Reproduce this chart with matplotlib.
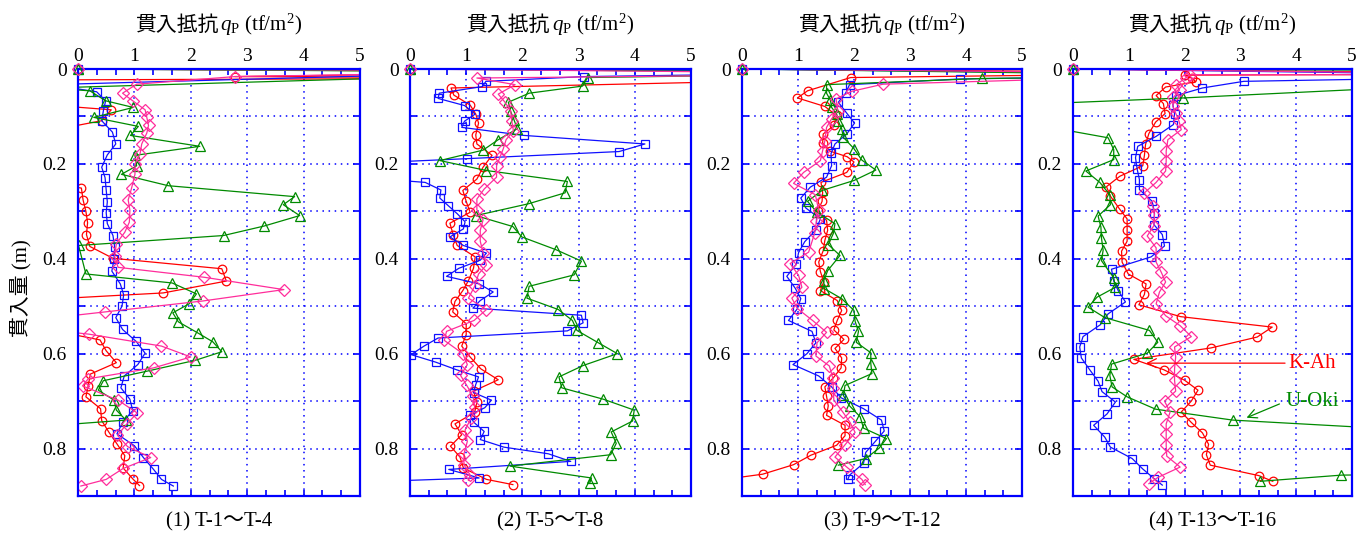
import matplotlib
matplotlib.use("Agg")
import matplotlib.pyplot as plt
from matplotlib.ticker import MultipleLocator
from matplotlib.offsetbox import TextArea, HPacker, AnnotationBbox

plt.rcParams['font.family'] = ['Liberation Serif', 'Noto Sans CJK JP']
plt.rcParams['mathtext.fontset'] = 'custom'
plt.rcParams['mathtext.rm'] = 'Liberation Serif'
plt.rcParams['mathtext.it'] = 'Liberation Serif:italic'

# ---- data: penetration resistance q (tf/m2) vs penetration depth d (m) ----
# values of 9.0 / -0.5 are points that fall off the plotted range

# panel (1)
p1_red_q = [0, 9, 2.78, 9, -0.5, -0.5, 0.59, 0.42, -0.5, -0.5, 0.06, 0.09, 0.14, 0.17, 0.15, 0.21, 0.62, 2.55,
            2.63, 1.51, -0.5, -0.5, 0.39, 0.50, 0.68, 0.22, 0.18, 0.14, 0.40, 0.42, 0.55, 0.69, 0.83, 0.80, 0.98, 1.09]
p1_red_d = [0, 0.006, 0.016, 0.019, 0.023, 0.076, 0.086, 0.109, 0.13, 0.24, 0.251, 0.276, 0.300, 0.324, 0.349,
            0.374, 0.399, 0.421, 0.447, 0.472, 0.485, 0.55, 0.571, 0.594, 0.619, 0.643, 0.668, 0.691, 0.716, 0.741,
            0.766, 0.790, 0.815, 0.841, 0.865, 0.878]
p1_blue_q = [0, 9, -0.5, 0.33, 0.49, 0.45, 0.42, 0.61, 0.67, 0.52, 0.42, 0.48, 0.50, 0.52, 0.50, 0.52, 0.62, 0.65,
             0.64, 0.60, 0.75, 0.81, 0.78, 0.67, 0.79, 1.03, 1.19, 1.06, 0.82, 0.76, 0.92, 0.97, 0.79, 0.69, 1.00,
             1.16, 1.34, 1.48, 1.69]
p1_blue_d = [0, 0.002, 0.033, 0.048, 0.067, 0.088, 0.109, 0.133, 0.158, 0.181, 0.207, 0.229, 0.255, 0.280, 0.303,
             0.326, 0.351, 0.375, 0.400, 0.426, 0.453, 0.476, 0.500, 0.524, 0.549, 0.574, 0.599, 0.623, 0.647, 0.672,
             0.696, 0.720, 0.745, 0.769, 0.794, 0.819, 0.844, 0.865, 0.879]
p1_green_q = [0, 9, -0.5, 0.21, 0.49, 0.98, 0.28, 1.07, 0.93, 2.16, 1.01, 1.04, 0.77, 1.60, 3.84, 3.64, 3.93, 3.30,
              2.58, 0.01, 0.14, 1.67, 2.10, 1.97, 1.68, 1.78, 2.12, 2.39, 2.55, 2.08, 1.22, 0.45, 0.36, 0.64, 0.68,
              0.85, -0.5]
p1_green_d = [0, 0.007, 0.040, 0.046, 0.067, 0.081, 0.102, 0.121, 0.140, 0.163, 0.182, 0.204, 0.222, 0.246, 0.269,
              0.286, 0.309, 0.331, 0.351, 0.372, 0.432, 0.451, 0.474, 0.495, 0.514, 0.533, 0.556, 0.575, 0.596,
              0.614, 0.637, 0.657, 0.677, 0.698, 0.719, 0.740, 0.752]
p1_mag_q = [0, 9, 2.78, 1.04, 0.79, 0.97, 1.19, 1.22, 1.25, 1.22, 1.13, 1.10, 1.01, 1.01, 0.95, 0.89, 0.92, 0.91,
            0.83, 0.68, 0.65, 0.71, 2.24, 3.65, 2.21, 0.48, -0.5, -0.5, 0.20, 1.48, 2.00, 1.34, 0.18, 0.08, 0.71,
            1.05, 0.86, 0.70, 0.88, 1.29, 0.80, 0.50, 0.05]
p1_mag_d = [0, 0.004, 0.016, 0.032, 0.051, 0.067, 0.086, 0.102, 0.119, 0.135, 0.158, 0.179, 0.200, 0.222, 0.251,
            0.276, 0.298, 0.323, 0.344, 0.368, 0.395, 0.418, 0.439, 0.465, 0.489, 0.512, 0.525, 0.55, 0.559, 0.584,
            0.607, 0.630, 0.653, 0.668, 0.698, 0.725, 0.749, 0.772, 0.796, 0.819, 0.842, 0.865, 0.879]

# panel (2)
p2_red_q = [0, 9, 9, 0.73, 0.78, 1.07, 1.17, 1.22, 1.17, 1.19, 1.46, 1.30, 1.19, 0.94, 1.00, 1.07, 0.71, 0.77, 0.84,
            1.16, 1.13, 1.04, 0.94, 0.80, 0.76, 1.00, 1.00, 0.92, 1.07, 1.26, 1.57, 1.13, 1.19, 1.15, 0.80, 0.92,
            0.72, 0.89, 0.95, 1.36, 1.83]
p2_red_d = [0, 0.004, 0.018, 0.040, 0.055, 0.076, 0.095, 0.114, 0.139, 0.158, 0.182, 0.207, 0.232, 0.256, 0.279,
            0.302, 0.325, 0.350, 0.372, 0.396, 0.420, 0.446, 0.467, 0.490, 0.512, 0.537, 0.560, 0.584, 0.607, 0.632,
            0.655, 0.679, 0.702, 0.724, 0.748, 0.771, 0.795, 0.818, 0.841, 0.865, 0.876]
p2_blue_q = [0, 9, 3.10, 1.35, 1.29, 0.52, 0.50, 0.97, 1.16, 0.97, 0.92, 2.03, 4.18, 3.72, 1.01, -0.5, -0.5, 0.27,
             0.55, 0.53, 0.68, 0.84, 0.98, 0.95, 0.71, 0.95, 1.36, 1.25, 0.87, 0.65, 1.23, 1.48, 1.25, 1.12, 3.05,
             3.08, 2.80, 0.50, 0.25, 0.02, 0.46, 0.83, 1.22, 1.17, 1.13, 1.45, 1.33, 1.07, 1.13, 1.32, 1.25, 1.67,
             2.46, 2.86, 0.69, 1.23, -0.5]
p2_blue_d = [0, 0.006, 0.016, 0.026, 0.037, 0.051, 0.062, 0.077, 0.095, 0.110, 0.123, 0.140, 0.158, 0.174, 0.189,
             0.197, 0.232, 0.239, 0.255, 0.272, 0.288, 0.305, 0.322, 0.337, 0.354, 0.372, 0.388, 0.403, 0.420, 0.437,
             0.453, 0.470, 0.488, 0.504, 0.519, 0.535, 0.552, 0.567, 0.584, 0.602, 0.618, 0.634, 0.649, 0.665,
             0.682, 0.698, 0.714, 0.729, 0.744, 0.764, 0.781, 0.797, 0.811, 0.827, 0.844, 0.862, 0.869]
p2_green_q = [0, 9, 3.16, 3.07, 2.12, 1.75, 1.79, 1.85, 1.91, 1.57, 1.30, 0.53, 1.36, 2.80, 2.76, 2.11, 1.17, 1.83,
              1.99, 2.60, 3.05, 2.92, 2.12, 2.08, 2.64, 2.89, 2.97, 3.35, 3.69, 3.08, 2.65, 2.70, 3.44, 3.99, 3.96,
              3.58, 3.67, 3.57, 1.78, 3.23, 3.20]
p2_green_d = [0, 0.008, 0.018, 0.036, 0.051, 0.070, 0.089, 0.107, 0.126, 0.149, 0.171, 0.193, 0.214, 0.237, 0.261,
              0.284, 0.309, 0.332, 0.354, 0.381, 0.405, 0.434, 0.458, 0.483, 0.507, 0.530, 0.551, 0.577, 0.600,
              0.625, 0.649, 0.672, 0.696, 0.719, 0.742, 0.765, 0.789, 0.813, 0.837, 0.862, 0.872]
p2_mag_q = [0, 9, 1.19, 1.87, 1.57, 1.69, 1.79, 1.81, 1.84, 1.71, 1.66, 1.60, 1.54, 1.54, 1.32, 1.19, 1.19, 1.30,
            1.25, 1.25, 1.30, 1.36, 1.22, 1.15, 1.04, 1.36, 1.14, 0.65, 0.61, 0.94, 1.02, 0.90, 1.01, 1.12, 1.15,
            1.09, 0.98, 1.02, 0.96, 0.96, 1.07, 1.04]
p2_mag_d = [0, 0.010, 0.019, 0.033, 0.053, 0.070, 0.088, 0.109, 0.130, 0.149, 0.168, 0.186, 0.204, 0.228, 0.253,
            0.274, 0.297, 0.318, 0.340, 0.363, 0.387, 0.413, 0.432, 0.458, 0.483, 0.507, 0.530, 0.553, 0.572, 0.600,
            0.623, 0.646, 0.667, 0.689, 0.712, 0.735, 0.761, 0.785, 0.811, 0.834, 0.856, 0.867]

# panel (3)
p3_red_q = [0, 9, 1.94, 1.17, 0.99, 1.48, 1.69, 1.64, 1.45, 1.44, 1.57, 1.88, 2.00, 1.87, 1.41, 1.44, 1.43, 1.35,
            1.51, 1.53, 1.48, 1.45, 1.37, 1.40, 1.46, 1.40, 1.70, 1.78, 1.70, 1.64, 1.82, 1.66, 1.78, 1.77, 1.63,
            1.48, 1.51, 1.54, 1.51, 1.84, 1.84, 1.69, 1.23, 0.92, 0.37, -0.5]
p3_red_d = [0, 0.008, 0.018, 0.046, 0.061, 0.079, 0.098, 0.119, 0.137, 0.156, 0.173, 0.185, 0.196, 0.218, 0.239,
            0.260, 0.279, 0.300, 0.319, 0.340, 0.361, 0.383, 0.407, 0.427, 0.448, 0.467, 0.488, 0.509, 0.530,
            0.550, 0.570, 0.589, 0.609, 0.630, 0.651, 0.670, 0.690, 0.710, 0.730, 0.751, 0.773, 0.793, 0.814,
            0.834, 0.854, 0.868]
p3_blue_q = [0, 9, 3.90, 1.92, 1.85, 1.72, 1.87, 2.01, 1.87, 1.66, 1.59, 1.60, 1.51, 1.22, 1.05, 1.14, 1.40, 1.32,
             1.12, 1.01, 0.97, 0.80, 0.95, 1.05, 0.99, 0.83, 1.25, 1.32, 1.16, 0.91, 1.37, 1.60, 1.77, 2.17, 2.49,
             2.54, 2.38, 2.21, 2.17, 1.92, 1.89]
p3_blue_d = [0, 0.012, 0.021, 0.033, 0.051, 0.070, 0.093, 0.114, 0.137, 0.158, 0.178, 0.204, 0.228, 0.249, 0.272,
             0.293, 0.316, 0.339, 0.364, 0.387, 0.411, 0.437, 0.462, 0.484, 0.505, 0.530, 0.553, 0.577, 0.600,
             0.623, 0.647, 0.670, 0.693, 0.716, 0.740, 0.763, 0.785, 0.808, 0.831, 0.856, 0.865]
p3_green_q = [0, 9, 4.28, 1.51, 1.51, 1.58, 1.60, 1.69, 1.72, 1.78, 1.81, 2.00, 2.14, 2.39, 2.00, 1.43, 1.17, 1.34,
              1.66, 1.63, 1.54, 1.75, 1.53, 1.46, 1.47, 1.78, 2.00, 2.02, 2.08, 2.04, 2.30, 2.30, 2.32, 1.84, 1.81,
              1.92, 2.11, 2.17, 2.58, 2.45, 2.21, 1.72]
p3_green_d = [0, 0.014, 0.020, 0.033, 0.051, 0.066, 0.081, 0.095, 0.110, 0.126, 0.144, 0.168, 0.192, 0.213, 0.235,
              0.256, 0.279, 0.302, 0.326, 0.347, 0.370, 0.393, 0.425, 0.446, 0.463, 0.484, 0.509, 0.532, 0.553,
              0.576, 0.598, 0.621, 0.642, 0.667, 0.688, 0.710, 0.733, 0.757, 0.779, 0.799, 0.821, 0.835]
p3_mag_q = [0, 9, 2.52, 1.96, 1.68, 1.71, 1.60, 1.51, 1.48, 1.44, 1.40, 1.10, 0.92, 1.31, 1.37, 1.33, 1.30, 1.19,
            0.86, 1.01, 1.07, 0.89, 0.99, 1.26, 1.51, 1.34, 1.32, 1.56, 1.62, 1.63, 1.64, 1.80, 1.93, 2.02, 1.84,
            1.66, 1.87, 2.14, 2.20]
p3_mag_d = [0, 0.010, 0.032, 0.047, 0.063, 0.088, 0.105, 0.123, 0.151, 0.172, 0.193, 0.218, 0.241, 0.265, 0.298,
            0.320, 0.345, 0.386, 0.410, 0.435, 0.460, 0.483, 0.505, 0.530, 0.555, 0.577, 0.605, 0.626, 0.651,
            0.672, 0.698, 0.723, 0.745, 0.766, 0.792, 0.818, 0.839, 0.865, 0.876]

# panel (4)
p4_red_q = [0, 9, 2.00, 2.14, 2.20, 1.66, 1.49, 1.62, 1.65, 1.48, 1.36, 1.30, 1.28, 1.25, 0.84, 0.60, 0.67, 0.84,
            0.97, 0.97, 0.97, 0.87, 0.88, 0.99, 1.31, 1.28, 1.18, 1.93, 3.57, 3.30, 2.47, 1.09, 1.63, 2.00, 2.24,
            2.12, 1.94, 2.12, 2.32, 2.43, 2.39, 2.46, 3.33, 3.58]
p4_red_d = [0, 0.010, 0.013, 0.020, 0.027, 0.038, 0.056, 0.073, 0.094, 0.112, 0.136, 0.159, 0.182, 0.204, 0.226,
            0.248, 0.268, 0.296, 0.316, 0.340, 0.363, 0.384, 0.407, 0.432, 0.453, 0.475, 0.497, 0.522, 0.544,
            0.565, 0.588, 0.612, 0.634, 0.656, 0.677, 0.700, 0.723, 0.745, 0.767, 0.791, 0.813, 0.835, 0.857, 0.869]
p4_blue_q = [0, 9, 3.06, 2.32, 1.85, 1.79, 1.82, 1.80, 1.49, 1.16, 1.12, 1.15, 1.19, 1.19, 1.42, 1.46, 1.45, 1.60,
             1.64, 1.40, 0.69, 0.73, 0.81, 0.94, 0.63, 0.49, 0.18, 0.12, 0.15, 0.30, 0.45, 0.52, 0.76, 0.61, 0.37,
             0.57, 0.67, 1.06, 1.25, 1.46, 1.60]
p4_blue_d = [0, 0.014, 0.026, 0.040, 0.056, 0.075, 0.094, 0.117, 0.142, 0.163, 0.187, 0.211, 0.233, 0.254, 0.279,
             0.303, 0.328, 0.349, 0.373, 0.396, 0.422, 0.447, 0.467, 0.491, 0.516, 0.539, 0.564, 0.586, 0.609,
             0.634, 0.658, 0.680, 0.702, 0.727, 0.751, 0.776, 0.797, 0.821, 0.843, 0.864, 0.877]
p4_green_q = [0, 9, 9, 1.98, -0.5, -0.5, 0.63, 0.73, 0.73, 0.23, 0.48, 0.66, 0.67, 0.45, 0.50, 0.51, 0.54, 0.51,
              0.73, 0.76, 0.43, 0.27, 0.57, 1.37, 1.52, 1.33, 0.69, 0.66, 0.70, 0.97, 1.48, 2.86, 9, 9, 4.81, 3.36]
p4_green_d = [0, 0.004, 0.021, 0.061, 0.073, 0.121, 0.145, 0.170, 0.191, 0.215, 0.239, 0.265, 0.286, 0.310, 0.333,
              0.356, 0.382, 0.404, 0.440, 0.460, 0.481, 0.502, 0.524, 0.551, 0.576, 0.599, 0.622, 0.646, 0.670,
              0.691, 0.717, 0.740, 0.780, 0.85, 0.856, 0.869]
p4_mag_q = [0, 9, 2.10, 2.03, 1.85, 1.91, 1.80, 1.79, 1.84, 1.90, 1.94, 1.70, 1.67, 1.67, 1.66, 1.49, 1.28, 1.43,
            1.46, 1.45, 1.33, 1.49, 1.49, 1.58, 1.66, 1.55, 1.49, 1.66, 1.92, 2.12, 1.82, 1.84, 1.82, 1.82, 1.84,
            1.64, 1.74, 1.67, 1.67, 1.67, 1.68, 1.92, 1.52, 1.36]
p4_mag_d = [0, 0.012, 0.012, 0.018, 0.033, 0.044, 0.060, 0.079, 0.093, 0.110, 0.128, 0.149, 0.173, 0.194, 0.215,
            0.239, 0.261, 0.289, 0.307, 0.330, 0.352, 0.377, 0.407, 0.428, 0.449, 0.470, 0.495, 0.520, 0.541,
            0.564, 0.586, 0.607, 0.632, 0.656, 0.679, 0.700, 0.723, 0.748, 0.769, 0.793, 0.816, 0.839, 0.861, 0.874]

captions = ['(1) T-1～T-4', '(2) T-5～T-8', '(3) T-9～T-12', '(4) T-13～T-16']
panels = [
    [(p1_red_q, p1_red_d), (p1_blue_q, p1_blue_d), (p1_green_q, p1_green_d), (p1_mag_q, p1_mag_d)],
    [(p2_red_q, p2_red_d), (p2_blue_q, p2_blue_d), (p2_green_q, p2_green_d), (p2_mag_q, p2_mag_d)],
    [(p3_red_q, p3_red_d), (p3_blue_q, p3_blue_d), (p3_green_q, p3_green_d), (p3_mag_q, p3_mag_d)],
    [(p4_red_q, p4_red_d), (p4_blue_q, p4_blue_d), (p4_green_q, p4_green_d), (p4_mag_q, p4_mag_d)],
]

RED, BLUE, GREEN, MAG = '#ff0000', '#1010ff', '#008a00', '#ff2d9b'
styles = [dict(color=RED, marker='o', ms=6.2),
          dict(color=BLUE, marker='s', ms=6.2),
          dict(color=GREEN, marker='^', ms=7.5),
          dict(color=MAG, marker='D', ms=6.2)]

fig = plt.figure(figsize=(13.7, 5.4), dpi=100)
lefts = [78, 410, 742, 1073]
widths = [282, 281, 280, 279]

for i, series in enumerate(panels):
    ax = fig.add_axes([lefts[i] / 1370, 1 - 496 / 540, widths[i] / 1370, 427 / 540])
    for (q, d), st in zip(series, styles):
        ax.plot(q, d, color=st['color'], lw=0.9, marker=st['marker'], ms=st['ms'],
                mfc='none', mec=st['color'], mew=0.9)
        # the surface point sits on the corner; show its marker whole
        ax.plot(q[:1], d[:1], ls='none', marker=st['marker'], ms=st['ms'],
                mfc='none', mec=st['color'], mew=0.9, clip_on=False, zorder=5)
    ax.set_xlim(0, 5)
    ax.set_ylim(0.9, 0)
    ax.xaxis.set_major_locator(MultipleLocator(1))
    ax.xaxis.set_minor_locator(MultipleLocator(1 / 3))
    ax.yaxis.set_major_locator(MultipleLocator(0.2))
    ax.yaxis.set_minor_locator(MultipleLocator(0.1))
    ax.xaxis.tick_top()
    ax.tick_params(axis='both', which='both', direction='in', colors='#0000ff',
                   labelcolor='black', labelsize=14, width=1.2)
    ax.tick_params(axis='x', which='both', top=True, bottom=True, length=4, pad=3)
    ax.tick_params(axis='y', which='both', left=True, right=True, length=5, pad=8)
    ax.set_yticks([0, 0.2, 0.4, 0.6, 0.8])
    ax.set_yticklabels(['0', '0.2', '0.4', '0.6', '0.8'])
    ax.grid(True, which='major', axis='x', color='#0000ff', ls=(0, (1, 3)), lw=1.1)
    ax.grid(True, which='both', axis='y', color='#0000ff', ls=(0, (1, 3)), lw=1.1)
    for sp in ax.spines.values():
        sp.set_color('#0000ff')
        sp.set_linewidth(1.6)

    # axis title: CJK part and math part packed side by side
    title_box = HPacker(children=[
        TextArea('貫入抵抗', textprops=dict(fontsize=15, family=['Noto Sans CJK JP'])),
        TextArea('$q_{\\mathrm{P}}$ (tf/m$^2$)', textprops=dict(fontsize=15)),
    ], align='baseline', pad=0, sep=1)
    ax.add_artist(AnnotationBbox(title_box, (0.5, 1.0 + 44 / 427), xycoords='axes fraction',
                                 frameon=False, box_alignment=(0.5, 0.5)))
    ax.text(0.5, -26 / 427, captions[i], transform=ax.transAxes, ha='center', va='center', fontsize=15)
    if i == 3:
        ax.annotate('', xy=(1.31, 0.620), xytext=(3.80, 0.620),
                    arrowprops=dict(arrowstyle='->', color=RED, lw=0.9, shrinkA=0, shrinkB=0,
                                    mutation_scale=16))
        ax.text(3.86, 0.620, 'K-Ah', color=RED, fontsize=15, ha='left', va='center')
        ax.annotate('', xy=(3.11, 0.735), xytext=(3.70, 0.706),
                    arrowprops=dict(arrowstyle='->', color=GREEN, lw=0.9, shrinkA=0, shrinkB=0,
                                    mutation_scale=16))
        ax.text(3.80, 0.700, 'U-Oki', color=GREEN, fontsize=15, ha='left', va='center')

fig.text(21 / 1370, 1 - 288 / 540, '貫入量 (m)', rotation=90, ha='center', va='center', fontsize=15)

fig.savefig('out.png', dpi=100)
